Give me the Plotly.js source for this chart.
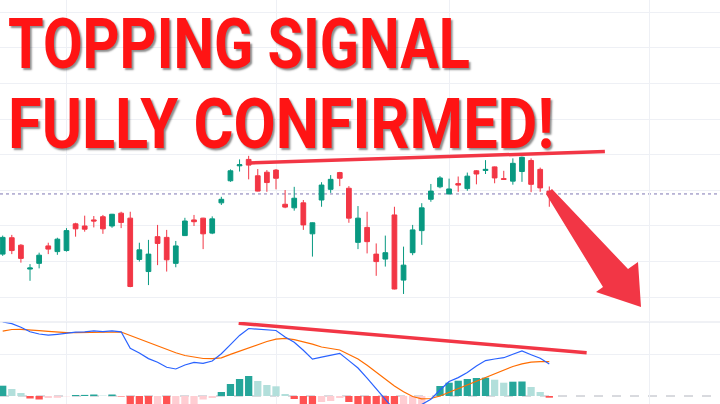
<!DOCTYPE html>
<html><head><meta charset="utf-8">
<script src="https://cdn.plot.ly/plotly-3.0.1.min.js"></script>
<style>html,body{margin:0;padding:0;background:#fff;overflow:hidden}#chart{width:720px;height:404px}</style>
</head><body><div id="chart"></div>
<script>
// ---- daily OHLC (index = trading day) ----
const open  = [4321,4367,4346,4279,4295,4344,4328,4331,4406,4400,4417,4426,4400,4436,4422,4306,4272,4370,4368,4295,4373,4417,4422,4380,4465,4527,4569,4587,4541,4551,4557,4461,4451,4465,4378,4473,4503,4550,4506,4354,4396,4321,4307,4431,4248,4325,4387,4475,4510,4490,4519,4505,4555,4556,4566,4533,4526,4553,4584,4559,4498];
const high  = [4373,4375,4349,4293,4325,4353,4367,4394,4409,4429,4428,4431,4434,4440,4440,4353,4361,4403,4389,4358,4423,4431,4423,4427,4482,4559,4587,4597,4560,4557,4560,4501,4510,4473,4410,4523,4543,4552,4512,4456,4440,4351,4373,4454,4342,4403,4464,4518,4540,4533,4539,4550,4557,4585,4567,4555,4590,4595,4590,4564,4511];
const low   = [4316,4321,4297,4246,4281,4321,4319,4328,4370,4384,4396,4378,4395,4394,4228,4300,4234,4290,4272,4284,4372,4400,4335,4377,4459,4524,4553,4531,4497,4496,4503,4450,4443,4389,4314,4454,4493,4512,4409,4335,4323,4260,4286,4222,4209,4318,4347,4468,4506,4489,4496,4499,4517,4546,4520,4530,4516,4524,4495,4496,4454];
const close = [4368,4331,4309,4282,4318,4335,4363,4387,4392,4391,4414,4392,4433,4410,4230,4333,4321,4351,4305,4344,4414,4412,4378,4420,4475,4555,4572,4571,4498,4522,4534,4453,4478,4403,4409,4515,4531,4534,4422,4422,4356,4300,4325,4223,4290,4389,4451,4498,4535,4504,4515,4540,4546,4559,4535,4531,4576,4593,4517,4507,4490];

// ---- MACD pane ----
const macd   = [74,72.3,68.7,64.2,62,60.8,61.7,62.9,63.8,64.2,65.2,64.4,65.1,64.2,47.6,43,37.4,33.8,28.7,27,31,33.6,32.7,35,42.3,51.4,60.6,67.5,66.6,66,65.5,59,53.7,45.8,36.9,38.9,41,42.7,35.4,28,17.9,6.6,-4,-14,-19,-14,-9,-3.2,6,14.5,18.4,23.6,30,35.4,37,38.3,41.8,45,41.3,37.8,32];
const signal = [64.8,66.5,66.7,66.4,65.4,64.6,63.9,63.3,63.4,63.6,63.7,63.9,64.1,64,60.5,57,53.3,49.7,46,43.3,40.5,38.9,37.5,37.3,38.2,41.6,45,48.3,51.5,54.5,56.9,57.6,56.4,54.2,51.8,49,47.4,46,41.5,37,30.7,23.8,16.5,10,4.2,-0.5,-2.8,-2.5,0,3.7,7.5,11.1,14.5,18,21.5,25.5,29.5,32.1,33.8,34.3,34.3];
const hist   = [10.3,7,3,-2.5,-3.5,-2,-1.8,-0.3,1,1.1,1.5,0.4,1.5,-0.5,-13,-14,-16,-15,-17,-16,-11,-9,-3.5,-2,4,12,17,20,15,11,9.7,2,-3,-9,-12,-6,-5,-2,-6,-10,-14,-18,-21,-23,-20,-14,-9,-0.3,10,13.3,15.3,17,18,18.3,16.3,13.3,14.3,14.5,9,4,-1.7];

// ---- drawings / labels ----
const monthStarts = [7, 30, 49, 71];
const priceTrend = {x:[27.0, 66.1], y:[4577, 4609]};
const macdTrend  = {x:[25.9, 64.1], y:[72.7, 43.3]};
const titleLines = ["TOPPING SIGNAL", "FULLY CONFIRMED!"];

const day = open.map((_, i) => i);
const lastPrice = close[close.length - 1];

const PX_PER_BAR = 9.11, X0PX = 2.7;
const xr = [-X0PX / PX_PER_BAR, (720 - X0PX) / PX_PER_BAR];
const yr = [4133.1, 5034.8];
const px2x = p => (p - X0PX) / PX_PER_BAR;
const py2y = p => yr[1] - (yr[1] - yr[0]) * p / 321;
const arrowPx = [[546,194],[552,189],[628,269],[638,262],[641,307],[596,292],[603,287]];
const arrowPath = arrowPx.map((p, i) => (i ? 'L' : 'M') + px2x(p[0]).toFixed(3) + ',' + py2y(p[1]).toFixed(2)).join(' ') + ' Z';

const histColors = hist.map((v, i) => {
  const p = i > 0 ? hist[i - 1] : v - 1;
  if (v >= 0) return p < v ? '#26a69a' : '#b2dfdb';
  return p < v ? '#ffcdd2' : '#ff5252';
});

const GRID = '#eef0f5';
const data = [
  {type:'candlestick', x:day, open:open, high:high, low:low, close:close,
   increasing:{line:{color:'#089981', width:1}, fillcolor:'#089981'},
   decreasing:{line:{color:'#f23645', width:1}, fillcolor:'#f23645'},
   whiskerwidth:0, hoverinfo:'skip', xaxis:'x', yaxis:'y'},
  {type:'bar', x:day, y:hist, marker:{color:histColors, line:{width:0}}, width:0.8,
   hoverinfo:'skip', xaxis:'x2', yaxis:'y2'},
  {type:'scatter', mode:'lines', x:day, y:signal, line:{color:'#ff6d00', width:1.2},
   hoverinfo:'skip', xaxis:'x2', yaxis:'y2'},
  {type:'scatter', mode:'lines', x:day, y:macd, line:{color:'#2962ff', width:1.2},
   hoverinfo:'skip', xaxis:'x2', yaxis:'y2'}
];

const axX = (anchor) => ({domain:[0,1], range:xr, tickvals:monthStarts, showticklabels:false, ticks:'',
  showgrid:true, gridcolor:GRID, gridwidth:1, zeroline:false, showline:false, anchor:anchor, fixedrange:true});

const layout = {
  width:720, height:404, margin:{l:0, r:0, t:0, b:0, pad:0},
  paper_bgcolor:'#ffffff', plot_bgcolor:'#ffffff', showlegend:false, boxgap:0.26,
  xaxis: Object.assign(axX('y'), {rangeslider:{visible:false}}),
  yaxis: {domain:[83/404, 1], range:yr, dtick:100, tick0:0, showticklabels:false, ticks:'',
          showgrid:true, gridcolor:GRID, zeroline:false, fixedrange:true},
  xaxis2: axX('y2'),
  yaxis2: {domain:[0, 82/404], range:[-8, 74], tickvals:[42], showticklabels:false, ticks:'',
           showgrid:true, gridcolor:GRID, zeroline:false, fixedrange:true},
  shapes: [
    {type:'line', xref:'paper', yref:'paper', x0:0, x1:1, y0:82/404, y1:82/404, line:{color:'#e0e3eb', width:1}},
    {type:'line', xref:'x2', yref:'y2', x0:xr[0], x1:xr[1], y0:0, y1:0, layer:'below', line:{color:'#b2b5be', width:1, dash:'dash'}},
    {type:'line', xref:'paper', yref:'y', x0:0, x1:1, y0:lastPrice, y1:lastPrice, layer:'below', line:{color:'#7f78b5', width:1, dash:'dot'}},
    {type:'line', xref:'x', yref:'y', x0:priceTrend.x[0], x1:priceTrend.x[1], y0:priceTrend.y[0], y1:priceTrend.y[1], line:{color:'#f23645', width:3.5}},
    {type:'line', xref:'x2', yref:'y2', x0:macdTrend.x[0], x1:macdTrend.x[1], y0:macdTrend.y[0], y1:macdTrend.y[1], line:{color:'#f23645', width:3.5}},
    {type:'path', xref:'x', yref:'y', path:arrowPath, fillcolor:'#f23645', line:{width:0}}
  ],
  annotations: titleLines.map((t, k) => ({
    text:t, xref:'paper', yref:'paper', x:0.01, y:[0.786, 0.589][k], xanchor:'left', yanchor:'bottom',
    showarrow:false, borderpad:0,
    font:{family:'Roboto, Arial, sans-serif', size:70, color:'#ff1414', weight:700}
  }))
};

Plotly.newPlot('chart', data, layout, {staticPlot:true, displayModeBar:false}).then(() => {
  const targets = [{left:8, width:462}, {left:8, width:546}];
  document.querySelectorAll('#chart .annotation').forEach((g, k) => {
    const t = g.querySelector('text.annotation-text');
    if (!t || !targets[k]) return;
    const bb = t.getBBox();
    const r = t.getBoundingClientRect();
    const s = targets[k].width / r.width;
    const dx = targets[k].left - r.left;
    t.setAttribute('transform', `translate(${bb.x + dx},0) scale(${s},1) translate(${-bb.x},0)`);
    t.style.textShadow = '2px 2px 2px rgba(0,0,0,0.45)';
  });
});
</script>
</body></html>
